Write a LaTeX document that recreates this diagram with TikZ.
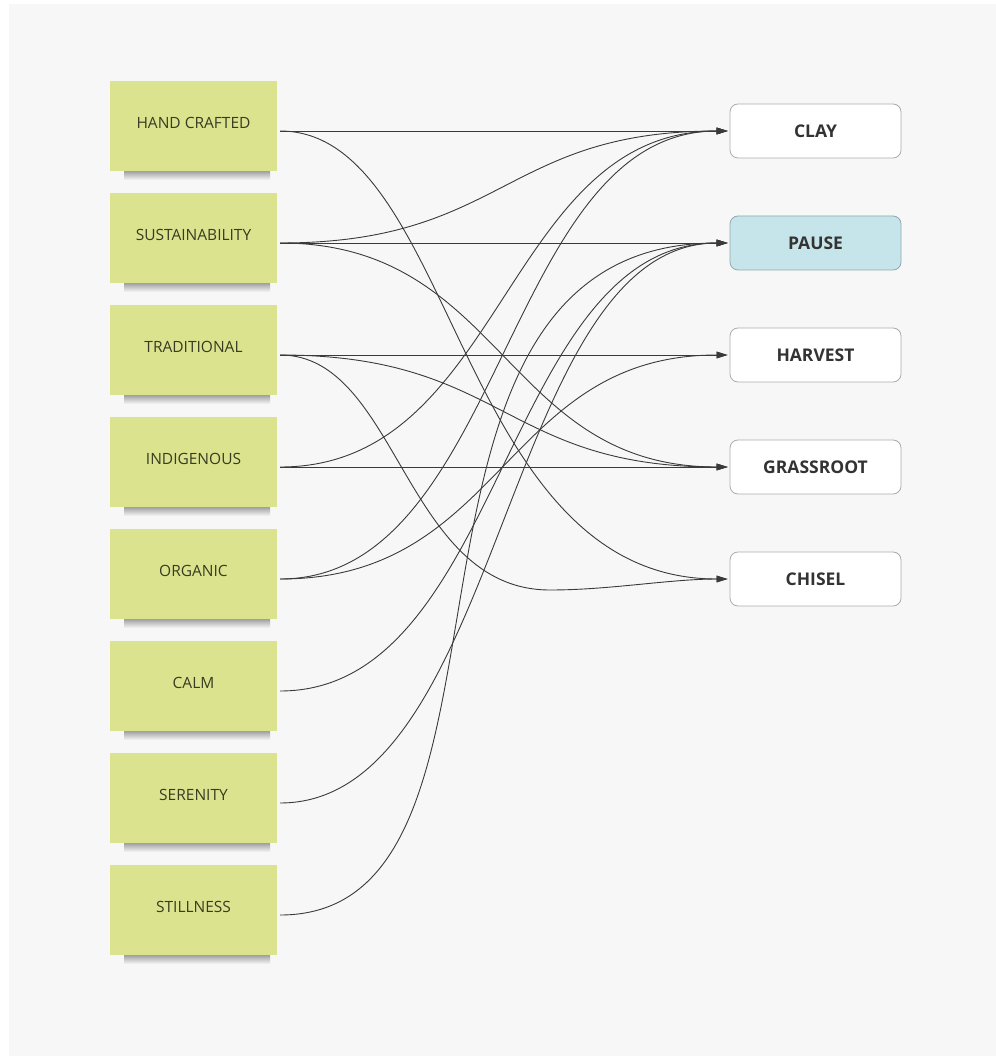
\documentclass[tikz,border=0pt]{standalone}
\usepackage{fontspec}
\setmainfont{Open Sans}
\usetikzlibrary{arrows.meta}
\definecolor{bgc}{HTML}{F7F7F7}
\definecolor{stickyc}{HTML}{DCE38E}
\definecolor{stxtc}{HTML}{373C22}
\definecolor{boxbd}{HTML}{ABABAB}
\definecolor{pausefill}{HTML}{C6E5EA}
\definecolor{pausebd}{HTML}{8FA9AD}
\definecolor{linec}{HTML}{3A3A3A}
\definecolor{ktxt}{HTML}{333333}
\begin{document}
\begin{tikzpicture}[x=1pt,y=-1pt,
  sticky/.style={fill=stickyc, minimum width=167pt, minimum height=90pt, inner sep=0pt},
  stxt/.style={text=stxtc, font=\fontsize{15.5}{18}\selectfont, inner sep=0pt},
  kbox/.style={draw=boxbd, line width=0.8pt, fill=white, rounded corners=8pt,
    minimum width=171pt, minimum height=54pt, inner sep=0pt,
    font=\bfseries\fontsize{17.5}{20}\selectfont, text=ktxt},
  pbox/.style={kbox, fill=pausefill, draw=pausebd},
  conn/.style={draw=linec, line width=0.9pt, -{Triangle[length=11pt,width=6.5pt]}, shorten >=2pt},
]
\useasboundingbox (0,0) rectangle (995,1056);
\fill[white] (0,0) rectangle (995,1056);
\fill[bgc] (9,4) rectangle (1005,1066);

% sticky notes
\foreach \n/\t [count=\i from 0] in {hc/HAND CRAFTED, sust/SUSTAINABILITY, trad/TRADITIONAL,
  indi/INDIGENOUS, org/ORGANIC, calm/CALM, ser/SERENITY, still/STILLNESS} {
  \shade[top color=black!45, bottom color=bgc] (124,169+112*\i) rectangle (270,180+112*\i);
  \node[sticky] (\n) at (193.5,126+112*\i) {};
  \node[stxt] (\n-t) at ([yshift=3.5pt]\n.center) {\t};
}

% keyword boxes
\node[kbox] (clay) at (815.5,131) {CLAY};
\node[pbox] (pause) at (815.5,243) {PAUSE};
\node[kbox] (harvest) at (815.5,355) {HARVEST};
\node[kbox] (grass) at (815.5,467) {GRASSROOT};
\node[kbox] (chisel) at (815.5,579) {CHISEL};

\def\st#1{([xshift=3pt,yshift=-5pt]#1.east)}
% straight connectors
\draw[conn] \st{hc} -- (clay.west);
\draw[conn] \st{sust} -- (pause.west);
\draw[conn] \st{trad} -- (harvest.west);
\draw[conn] \st{indi} -- (grass.west);

% curved connectors
\draw[conn] \st{hc} .. controls +(176,0) and +(-274,0) .. (chisel.west);
\draw[conn] \st{sust} .. controls +(224,0) and +(-226,0) .. (clay.west);
\draw[conn] \st{sust} .. controls +(224,0) and +(-226,0) .. (grass.west);
\draw[conn] \st{trad} .. controls +(224,0) and +(-226,0) .. (grass.west);
\coordinate (tcmid) at (550,590);
\draw[conn] \st{trad} .. controls +(118,0) and +(-146,0) .. (tcmid)
  .. controls +(60,0) and +(-60,0) .. (chisel.west);
\draw[conn] \st{indi} .. controls +(224,0) and +(-226,0) .. (clay.west);
\draw[conn] \st{org} .. controls +(224,0) and +(-226,0) .. (clay.west);
\draw[conn] \st{org} .. controls +(224,0) and +(-226,0) .. (harvest.west);
\draw[conn] \st{calm} .. controls +(224,0) and +(-226,0) .. (pause.west);
\draw[conn] \st{ser} .. controls +(224,0) and +(-226,0) .. (pause.west);
\draw[conn] \st{still} .. controls +(274,0) and +(-380,0) .. (pause.west);
\end{tikzpicture}
\end{document}
